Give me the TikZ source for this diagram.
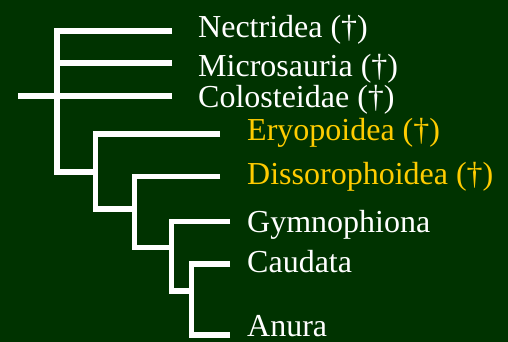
\documentclass[tikz,border=0pt]{standalone}
\usepackage{fontspec}
\setmainfont{Liberation Serif}
\definecolor{bggreen}{RGB}{0,51,0}
\definecolor{extinct}{RGB}{255,204,0}
\begin{document}
\begin{tikzpicture}[x=1pt,y=-1pt,
  branch/.style={draw=white,line width=5.5pt,line join=miter},
  taxon/.style={anchor=base west,inner sep=0pt,text=white,font=\fontsize{32}{37}\selectfont},
  fossil/.style={taxon,text=extinct}]
\fill[bggreen] (0,0) rectangle (508,342);
% tips
\coordinate (tN) at (172,31);
\coordinate (tM) at (172,63);
\coordinate (tC) at (172,96);
\coordinate (tE) at (220,134);
\coordinate (tD) at (220,176.5);
\coordinate (tG) at (230,221.5);
\coordinate (tCa) at (230,264);
\coordinate (tA) at (230,335);
\coordinate (root) at (18,96);
% junctions
\coordinate (j1) at (57,172);
\coordinate (j2) at (95.5,172);
\coordinate (j3) at (134.5,209);
\coordinate (j4) at (171.5,247.5);
\coordinate (j5) at (191.5,291);
% branches
\draw[branch] (tN) -| (j1) -- (j2);
\draw[branch] (tM) -- (tM -| j1);
\draw[branch] (root) -- (tC);
\draw[branch] (tE) -| (j2) |- (j3);
\draw[branch] (tD) -| (j3) |- (j4);
\draw[branch] (tG) -| (j4) |- (j5);
\draw[branch] (tCa) -| (j5) |- (tA);
% labels
\node[taxon] (lN) at (198,38) {Nectridea (†)};
\node[taxon] (lM) at (198,77) {Microsauria (†)};
\node[taxon] (lC) at (198,108) {Colosteidae (†)};
\node[fossil] (lE) at (247,140) {Eryopoidea (†)};
\node[fossil] (lD) at (247,184) {Dissorophoidea (†)};
\node[taxon] (lG) at (247,232) {Gymnophiona};
\node[taxon] (lCa) at (247,272) {Caudata};
\node[taxon] (lA) at (247,336) {Anura};
\end{tikzpicture}
\end{document}
